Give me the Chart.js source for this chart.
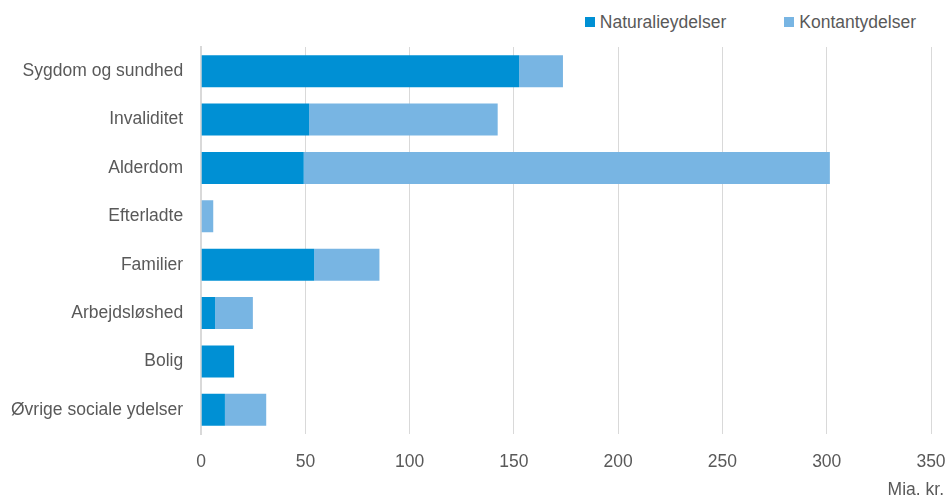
<!DOCTYPE html>
<html>
<head>
<meta charset="utf-8">
<script src="https://cdn.jsdelivr.net/npm/chart.js@4.4.1/dist/chart.umd.min.js"></script>
<style>
    html, body { margin: 0; padding: 0; background: #fff; }
    body { font-family: 'Liberation Sans', Arial, sans-serif; color: #595959; }
    #legend {
        height: 40px;
        display: flex;
        justify-content: flex-end;
        align-items: center;
        padding-right: 32px;
        padding-top: 4px;
        box-sizing: border-box;
        font-size: 17.5px;
    }
    #legend .item { display: flex; align-items: center; margin-left: 58px; }
    #legend .box { width: 10px; height: 10px; margin-right: 5px; }
    #wrap { width: 948px; height: 461px; }
</style>
</head>
<body>
<div id="legend"></div>
<div id="wrap"><canvas id="benefitChart"></canvas></div>
<script>
const categories = [
    'Sygdom og sundhed',
    'Invaliditet',
    'Alderdom',
    'Efterladte',
    'Familier',
    'Arbejdsløshed',
    'Bolig',
    'Øvrige sociale ydelser',
];
// Mia. kr.
const naturalValues = [152.5, 51.8, 49.2, 0, 54.2, 6.7, 15.8, 11.4];
const kontantValues = [21.0, 90.4, 252.3, 5.8, 31.3, 18.1, 0, 19.8];
const xTicks = [0, 50, 100, 150, 200, 250, 300, 350];
const seriesNames = ['Naturalieydelser', 'Kontantydelser'];
const seriesColors = ['#0090d4', '#78b5e3'];

const fontFamily = "'Liberation Sans', Arial, sans-serif";
const textColor = '#595959';
const fontSize = 17.5;

const chartConfig = {
    type: 'bar',
    data: {
        labels: categories,
        datasets: [
            {
                label: seriesNames[0],
                data: naturalValues,
                backgroundColor: seriesColors[0],
                borderWidth: 0,
                barPercentage: 0.66,
                categoryPercentage: 1,
            },
            {
                label: seriesNames[1],
                data: kontantValues,
                backgroundColor: seriesColors[1],
                borderWidth: 0,
                barPercentage: 0.66,
                categoryPercentage: 1,
            },
        ],
    },
    options: {
        indexAxis: 'y',
        responsive: true,
        maintainAspectRatio: false,
        animation: false,
        layout: { padding: { top: 7, right: 4, left: 0, bottom: 0 } },
        plugins: {
            legend: { display: false },
            tooltip: { enabled: false },
            // unit label sits under the axis, right aligned
            title: {
                display: true,
                text: 'Mia. kr.',
                position: 'bottom',
                align: 'end',
                color: textColor,
                font: { family: fontFamily, size: fontSize, weight: 'normal' },
                padding: { top: 7, bottom: 0 },
            },
        },
        scales: {
            x: {
                stacked: true,
                min: 0,
                max: 350,
                afterBuildTicks: (axis) => {
                    axis.ticks = xTicks.map((v) => ({ value: v }));
                },
                afterFit: (axis) => {
                    axis.height -= 18;
                    axis.paddingLeft = 0;
                    axis.paddingRight = 17;
                },
                grid: { color: '#d9d9d9', lineWidth: 1, drawTicks: false },
                border: { display: false },
                ticks: {
                    color: textColor,
                    font: { family: fontFamily, size: fontSize },
                    padding: 18,
                },
            },
            y: {
                stacked: true,
                grid: { display: false, drawTicks: false },
                border: { display: true, color: '#d9d9d9', width: 2 },
                ticks: {
                    color: textColor,
                    font: { family: fontFamily, size: fontSize },
                    padding: 18,
                },
                afterFit: (axis) => {
                    // tick padding should not push the plot down
                    axis.paddingTop = 0;
                    axis.paddingBottom = 0;
                    axis.width -= 7;
                },
            },
        },
    },
};

function buildLegend() {
    var strHtml = '';
    seriesNames.forEach(function (name, i) {
        strHtml += `<div class="item"><span class="box" style="background:${seriesColors[i]}"></span>${name}</div>`;
    });
    document.getElementById('legend').innerHTML = strHtml;
}

buildLegend();
new Chart(document.getElementById('benefitChart').getContext('2d'), chartConfig);
</script>
</body>
</html>
